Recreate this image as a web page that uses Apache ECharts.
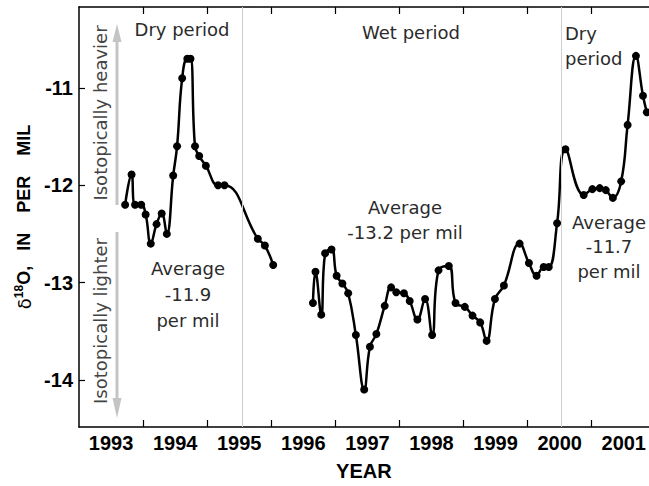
<!DOCTYPE html>
<html>
<head>
<meta charset="utf-8">
<script src="https://cdn.jsdelivr.net/npm/echarts@6/dist/echarts.min.js"></script>
<style>
html,body{margin:0;padding:0;background:#fff;}
#chart{width:649px;height:486px;}
</style>
</head>
<body>
<div id="chart"></div>
<script>
// ---- data ----
const yearTicks = [1994, 1995, 1996, 1997, 1998, 1999, 2000, 2001];
const yearLabels = [1993, 1994, 1995, 1996, 1997, 1998, 1999, 2000, 2001];
const valueTicks = [-14, -13, -12, -11];
const periodBoundaries = [1995.55, 2000.53];

const years1 = [1993.72, 1993.82, 1993.875, 1993.97, 1994.04, 1994.12, 1994.21, 1994.29, 1994.37, 1994.47, 1994.53, 1994.61, 1994.69, 1994.74, 1994.81, 1994.875, 1994.98, 1995.17, 1995.27, 1995.79, 1995.90, 1996.03];
const values1 = [-12.20, -11.89, -12.20, -12.20, -12.30, -12.60, -12.40, -12.29, -12.50, -11.90, -11.60, -10.90, -10.70, -10.70, -11.60, -11.70, -11.80, -12.00, -12.00, -12.55, -12.62, -12.82];

const years2 = [1996.65, 1996.69, 1996.78, 1996.84, 1996.94, 1997.02, 1997.11, 1997.20, 1997.32, 1997.45, 1997.54, 1997.64, 1997.77, 1997.87, 1997.95, 1998.07, 1998.16, 1998.28, 1998.40, 1998.51, 1998.61, 1998.77, 1998.875, 1999.02, 1999.14, 1999.26, 1999.36, 1999.49, 1999.63, 1999.875, 2000.02, 2000.14, 2000.25, 2000.33, 2000.46, 2000.59, 2000.875, 2001.01, 2001.125, 2001.22, 2001.33, 2001.46, 2001.56, 2001.69, 2001.80, 2001.86];
const values2 = [-13.21, -12.89, -13.33, -12.70, -12.66, -12.93, -13.01, -13.11, -13.54, -14.10, -13.66, -13.53, -13.24, -13.05, -13.10, -13.11, -13.19, -13.38, -13.17, -13.54, -12.875, -12.83, -13.21, -13.25, -13.34, -13.41, -13.60, -13.17, -13.03, -12.60, -12.80, -12.93, -12.84, -12.84, -12.39, -11.63, -12.10, -12.04, -12.03, -12.05, -12.13, -11.96, -11.38, -10.67, -11.08, -11.25];

const xMin = 1993, xMax = 2001.89;
const yMin = -14.485, yMax = -10.168;

// ---- chart ----
const chart = echarts.init(document.getElementById('chart'), null, {renderer: 'svg'});
const pair = (xs, ys) => xs.map((x, i) => [x, ys[i]]);
const annColor = '#2b2b2b';

const lineStyleCommon = {color: '#000', width: 2.5};

chart.setOption({
  animation: false,
  backgroundColor: '#fff',
  grid: {left: 79, top: 7, right: 0, bottom: 56},
  xAxis: [
    {
      type: 'value', position: 'bottom', min: xMin, max: xMax,
      name: 'YEAR', nameLocation: 'middle', nameGap: 34,
      nameTextStyle: {fontFamily: 'Liberation Sans', fontWeight: 'bold', fontSize: 20, color: '#000'},
      axisLine: {show: true, onZero: false, lineStyle: {color: '#000', width: 1.5}},
      axisTick: {show: true, inside: true, length: 7, customValues: yearTicks, lineStyle: {color: '#000', width: 1.2}},
      axisLabel: {show: true, customValues: yearLabels.map(y => y + 0.5), formatter: v => String(Math.floor(v)),
        margin: 6, fontFamily: 'Liberation Sans', fontWeight: 'bold', fontSize: 20, color: '#000'},
      splitLine: {show: false}
    },
    {
      type: 'value', position: 'top', min: xMin, max: xMax,
      axisLine: {show: true, onZero: false, lineStyle: {color: '#000', width: 1.5}},
      axisTick: {show: true, inside: true, length: 7, customValues: yearTicks, lineStyle: {color: '#000', width: 1.2}},
      axisLabel: {show: false},
      splitLine: {show: false}
    }
  ],
  yAxis: {
    type: 'value', min: yMin, max: yMax,
    name: '{d|δ}{s|18}{b|O,   IN    PER    MIL}',
    nameLocation: 'middle', nameRotate: 90, nameGap: 40,
    nameTextStyle: {
      rich: {
        d: {fontFamily: 'DejaVu Sans', fontSize: 18, color: '#000'},
        s: {fontFamily: 'Liberation Sans', fontWeight: 'bold', fontSize: 12, color: '#000', padding: [0, 0, 10, 0]},
        b: {fontFamily: 'Liberation Sans', fontWeight: 'bold', fontSize: 18, color: '#000'}
      }
    },
    axisLine: {show: true, onZero: false, lineStyle: {color: '#000', width: 1.5}},
    axisTick: {show: true, inside: true, length: 6, customValues: valueTicks, lineStyle: {color: '#000', width: 1.2}},
    axisLabel: {show: true, customValues: valueTicks, margin: 6,
      fontFamily: 'Liberation Sans', fontWeight: 'bold', fontSize: 20, color: '#000'},
    splitLine: {show: false}
  },
  series: [
    {
      type: 'line', xAxisIndex: 0, data: pair(years1, values1), smooth: 0.45,
      symbol: 'circle', symbolSize: 8, itemStyle: {color: '#000'}, lineStyle: lineStyleCommon,
      markLine: {
        silent: true, symbol: ['none', 'none'], label: {show: false},
        lineStyle: {color: '#cfcfcf', width: 1, type: 'solid'},
        data: periodBoundaries.map(x => ({xAxis: x}))
      },
      z: 3
    },
    {
      type: 'line', xAxisIndex: 0, data: pair(years2, values2), smooth: 0.45,
      symbol: 'circle', symbolSize: 8, itemStyle: {color: '#000'}, lineStyle: lineStyleCommon, z: 3
    }
  ],
  graphic: [
    // arrows
    {type: 'line', shape: {x1: 117, y1: 205, x2: 117, y2: 38}, style: {stroke: '#c4c4c4', lineWidth: 3}, z: 1},
    {type: 'polygon', shape: {points: [[117, 24], [112.5, 42], [121.5, 42]]}, style: {fill: '#c4c4c4'}, z: 1},
    {type: 'line', shape: {x1: 117, y1: 232, x2: 117, y2: 402}, style: {stroke: '#c4c4c4', lineWidth: 3}, z: 1},
    {type: 'polygon', shape: {points: [[117, 418], [112.5, 398], [121.5, 398]]}, style: {fill: '#c4c4c4'}, z: 1},
    {type: 'text', x: 100, y: 113, rotation: Math.PI / 2,
      style: {text: 'Isotopically heavier', align: 'center', verticalAlign: 'middle', font: '18px "DejaVu Sans"', fill: '#444'}},
    {type: 'text', x: 100, y: 321, rotation: Math.PI / 2,
      style: {text: 'Isotopically lighter', align: 'center', verticalAlign: 'middle', font: '18px "DejaVu Sans"', fill: '#444'}},
    // period labels
    {type: 'text', x: 182, y: 29, style: {text: 'Dry period', align: 'center', verticalAlign: 'middle', font: '18px "DejaVu Sans"', fill: annColor}},
    {type: 'text', x: 411, y: 32, style: {text: 'Wet period', align: 'center', verticalAlign: 'middle', font: '18px "DejaVu Sans"', fill: annColor}},
    {type: 'text', x: 565, y: 45.5, style: {text: 'Dry\nperiod', align: 'left', verticalAlign: 'middle', lineHeight: 25, font: '18px "DejaVu Sans"', fill: annColor}},
    // averages
    {type: 'text', x: 188, y: 294, style: {text: 'Average\n-11.9\nper mil', align: 'center', verticalAlign: 'middle', lineHeight: 26, font: '18px "DejaVu Sans"', fill: annColor}},
    {type: 'text', x: 405, y: 219.5, style: {text: 'Average\n-13.2 per mil', align: 'center', verticalAlign: 'middle', lineHeight: 25, font: '18px "DejaVu Sans"', fill: annColor}},
    {type: 'text', x: 609, y: 246.5, style: {text: 'Average\n-11.7\nper mil', align: 'center', verticalAlign: 'middle', lineHeight: 24.5, font: '18px "DejaVu Sans"', fill: annColor}}
  ]
});
</script>
</body>
</html>
